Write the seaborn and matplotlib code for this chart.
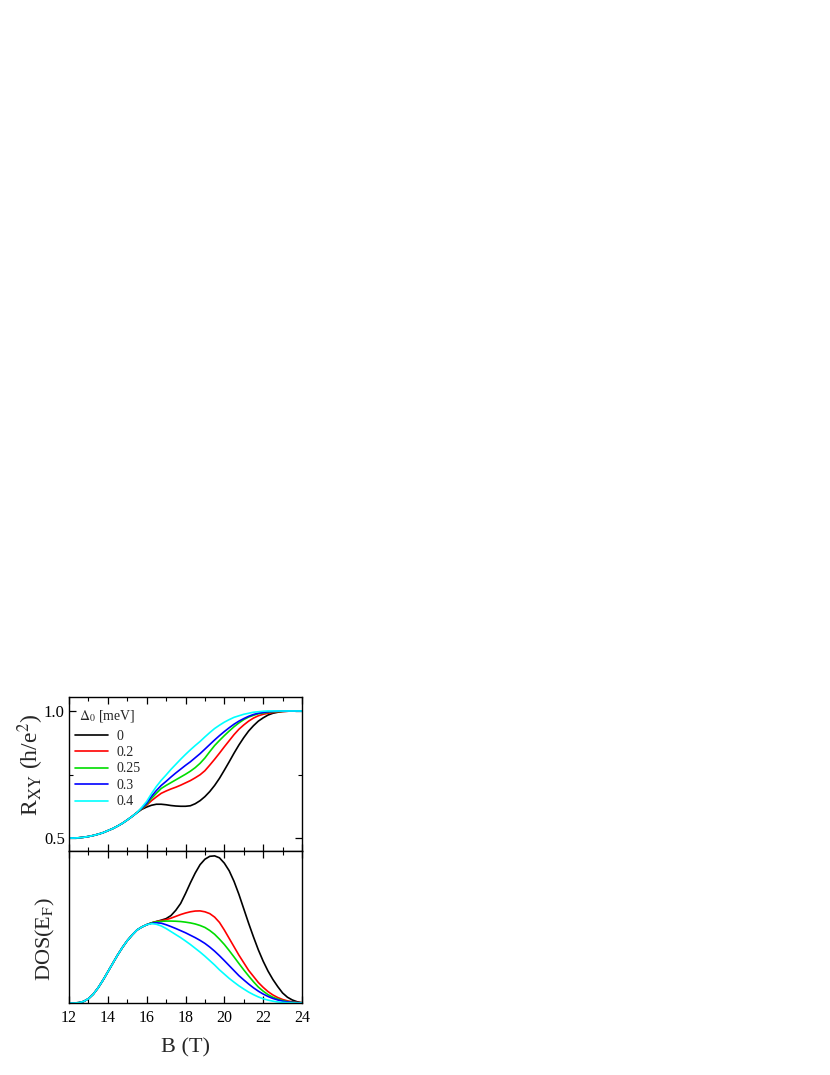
import numpy as np
import pandas as pd
import matplotlib
matplotlib.use('Agg')
import matplotlib.pyplot as plt
import seaborn as sns
from matplotlib.ticker import MultipleLocator

# 데이터
b_field = [12.0, 12.25, 12.5, 12.75, 13.0, 13.25, 13.5, 13.75, 14.0, 14.25, 14.5,
           14.75, 15.0, 15.25, 15.5, 15.75, 16.0, 16.25, 16.5, 16.75, 17.0, 17.25,
           17.5, 17.75, 18.0, 18.25, 18.5, 18.75, 19.0, 19.25, 19.5, 19.75, 20.0,
           20.25, 20.5, 20.75, 21.0, 21.25, 21.5, 21.75, 22.0, 22.25, 22.5, 22.75,
           23.0, 23.25, 23.5, 23.75, 24.0]
delta_labels = ['0', '0.2', '0.25', '0.3', '0.4']
line_colors = ['black', '#ff0000', '#00dd00', '#0000ff', '#00ffff']

# R_XY (h/e^2): 12~15.5 T 구간은 모든 곡선이 같음
rxy_start = [0.5, 0.5, 0.501, 0.503, 0.506, 0.51, 0.515, 0.521, 0.529, 0.537,
             0.547, 0.558, 0.571, 0.585, 0.6]
rxy_0 = rxy_start + [0.613, 0.622, 0.629, 0.633, 0.633, 0.631, 0.628, 0.626, 0.625,
                     0.625, 0.627, 0.635, 0.647, 0.663, 0.683, 0.707, 0.735, 0.767,
                     0.800, 0.834, 0.866, 0.895, 0.921, 0.942, 0.960, 0.973, 0.984,
                     0.991, 0.995, 0.998, 0.999, 1.0, 1.0, 1.0]
rxy_02 = rxy_start + [0.615, 0.629, 0.647, 0.662, 0.676, 0.685, 0.693, 0.700, 0.708,
                      0.717, 0.726, 0.737, 0.749, 0.765, 0.787, 0.810, 0.834, 0.859,
                      0.883, 0.907, 0.928, 0.945, 0.960, 0.972, 0.981, 0.987, 0.991,
                      0.994, 0.997, 0.998, 0.999, 1.0, 1.0, 1.0]
rxy_025 = rxy_start + [0.616, 0.633, 0.656, 0.676, 0.695, 0.707, 0.718, 0.729, 0.740,
                       0.751, 0.763, 0.777, 0.794, 0.815, 0.840, 0.864, 0.884, 0.903,
                       0.921, 0.938, 0.953, 0.966, 0.976, 0.983, 0.989, 0.992, 0.995,
                       0.997, 0.998, 0.999, 1.0, 1.0, 1.0, 1.0]
rxy_03 = rxy_start + [0.618, 0.637, 0.664, 0.687, 0.707, 0.723, 0.740, 0.756, 0.771,
                      0.786, 0.800, 0.816, 0.832, 0.850, 0.868, 0.886, 0.903, 0.919,
                      0.934, 0.948, 0.960, 0.970, 0.979, 0.986, 0.991, 0.994, 0.997,
                      0.998, 0.999, 1.0, 1.0, 1.0, 1.0, 1.0]
rxy_04 = rxy_start + [0.621, 0.644, 0.675, 0.703, 0.727, 0.748, 0.770, 0.790, 0.810,
                      0.829, 0.847, 0.864, 0.880, 0.898, 0.915, 0.931, 0.944, 0.956,
                      0.966, 0.975, 0.981, 0.987, 0.991, 0.995, 0.997, 0.999, 1.0,
                      1.0, 1.0, 1.0, 1.0, 1.0, 1.0, 1.0]

# DOS(E_F) (임의 단위)
dos_start = [0.0, 0.0, 0.002, 0.01, 0.028, 0.058, 0.1, 0.15, 0.205, 0.26, 0.315,
             0.365, 0.41, 0.447, 0.48, 0.5]
dos_0 = dos_start + [0.515, 0.527, 0.536, 0.545, 0.555, 0.575, 0.61, 0.655, 0.72,
                     0.79, 0.855, 0.91, 0.946, 0.965, 0.968, 0.955, 0.92, 0.87,
                     0.80, 0.715, 0.62, 0.525, 0.435, 0.35, 0.275, 0.21, 0.155,
                     0.108, 0.066, 0.038, 0.02, 0.008, 0.002]
dos_02 = dos_start + [0.515, 0.527, 0.536, 0.542, 0.548, 0.558, 0.57, 0.582, 0.592,
                      0.6, 0.605, 0.606, 0.6, 0.588, 0.565, 0.53, 0.48, 0.425,
                      0.37, 0.315, 0.265, 0.215, 0.175, 0.135, 0.103, 0.075, 0.053,
                      0.036, 0.023, 0.014, 0.008, 0.004, 0.001]
dos_025 = dos_start + [0.515, 0.527, 0.534, 0.537, 0.539, 0.539, 0.538, 0.536, 0.532,
                       0.527, 0.52, 0.51, 0.497, 0.477, 0.452, 0.42, 0.385, 0.345,
                       0.303, 0.26, 0.218, 0.178, 0.14, 0.105, 0.078, 0.055, 0.038,
                       0.026, 0.016, 0.009, 0.005, 0.002, 0.0]
dos_03 = dos_start + [0.515, 0.524, 0.528, 0.525, 0.515, 0.503, 0.49, 0.476, 0.462,
                      0.446, 0.43, 0.412, 0.392, 0.368, 0.341, 0.311, 0.279, 0.246,
                      0.213, 0.18, 0.152, 0.125, 0.1, 0.078, 0.059, 0.043, 0.03,
                      0.02, 0.012, 0.007, 0.004, 0.002, 0.0]
dos_04 = dos_start + [0.515, 0.522, 0.518, 0.507, 0.49, 0.47, 0.45, 0.43, 0.408,
                      0.385, 0.36, 0.335, 0.308, 0.279, 0.25, 0.218, 0.19, 0.162,
                      0.137, 0.113, 0.092, 0.072, 0.055, 0.04, 0.028, 0.019, 0.012,
                      0.007, 0.004, 0.002, 0.001, 0.0, 0.0]

rxy_series = [rxy_0, rxy_02, rxy_025, rxy_03, rxy_04]
dos_series = [dos_0, dos_02, dos_025, dos_03, dos_04]


def to_long(series_list):
    frames = []
    for lab, vals in zip(delta_labels, series_list):
        frames.append(pd.DataFrame({'B': b_field, 'val': vals, 'delta': lab}))
    return pd.concat(frames, ignore_index=True)


df_rxy = to_long(rxy_series)
df_dos = to_long(dos_series)

sns.set_style('ticks')
plt.rcParams['font.family'] = ['Liberation Serif', 'DejaVu Serif']
plt.rcParams['mathtext.fontset'] = 'stix'
plt.rcParams['axes.linewidth'] = 1.0

palette = dict(zip(delta_labels, line_colors))

fig = plt.figure(figsize=(8.3, 10.75), dpi=100)
ax1 = fig.add_axes([69 / 830, 1 - 851 / 1075, 233 / 830, 154 / 1075])
ax2 = fig.add_axes([69 / 830, 1 - 1003 / 1075, 233 / 830, 152 / 1075])

sns.lineplot(data=df_rxy, x='B', y='val', hue='delta', palette=palette,
             hue_order=delta_labels, linewidth=1.2, ax=ax1)
sns.lineplot(data=df_dos, x='B', y='val', hue='delta', palette=palette,
             hue_order=delta_labels, linewidth=1.2, ax=ax2, legend=False)

for ax in (ax1, ax2):
    ax.set_xlim(12, 24)
    ax.xaxis.set_major_locator(MultipleLocator(2))
    ax.xaxis.set_minor_locator(MultipleLocator(1))
    ax.tick_params(which='both', direction='in', top=True, right=True, colors='black')
    ax.tick_params(which='major', length=5, width=0.9)
    ax.tick_params(which='minor', length=3, width=0.8)
    for sp in ax.spines.values():
        sp.set_color('black')

# 위 패널
ax1.set_ylim(0.449, 1.055)
ax1.yaxis.set_major_locator(MultipleLocator(0.5))
ax1.yaxis.set_minor_locator(MultipleLocator(0.25))
ax1.tick_params(axis='x', labelbottom=False)
ax1.tick_params(axis='y', labelsize=12, pad=3)
ax1.set_xlabel('')
ax1.set_ylabel(r'R$_{\mathrm{XY}}$ (h/e$^2$)', fontsize=17)
ax1.yaxis.set_label_coords(-0.10, 0.56)

leg = ax1.legend(title=r'$\Delta_0$ [meV]', loc='upper left', frameon=False,
                 bbox_to_anchor=(0.0, 0.965), fontsize=10, title_fontsize=10,
                 handlelength=2.4, labelspacing=0.25, borderaxespad=0.0,
                 handletextpad=0.6)
leg._legend_box.sep = 4

# 아래 패널
ax2.set_ylim(0, 1.0)
ax2.set_yticks([])
ax2.tick_params(axis='x', labelsize=11.5, pad=5)
ax2.set_xlabel('B (T)', fontsize=16, labelpad=9)
ax2.set_ylabel(r'DOS(E$_{\mathrm{F}}$)', fontsize=16)
ax2.yaxis.set_label_coords(-0.05, 0.42)

fig.savefig('out.png', dpi=100)
